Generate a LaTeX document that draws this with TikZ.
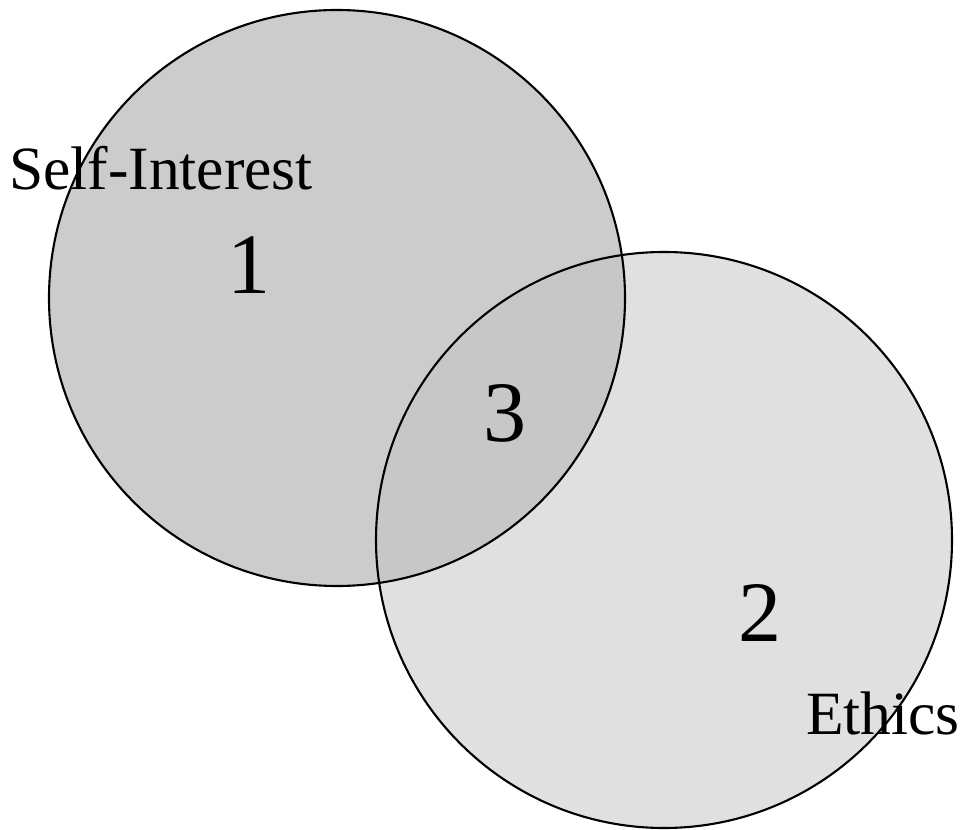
\documentclass[tikz,border=0pt]{standalone}
\usepackage{fontspec}
\setmainfont{Liberation Serif}
\usetikzlibrary{positioning}

\definecolor{selfgray}{gray}{0.80}
\definecolor{ethgray}{gray}{0.88}
\definecolor{bothgray}{gray}{0.78}

\begin{document}
\begin{tikzpicture}[x=0.02cm,y=-0.02cm,
    ring/.style={draw=black,line width=1.2pt},
    label/.style={font=\fontsize{35}{35}\selectfont,inner sep=0pt},
    region/.style={font=\fontsize{49}{49}\selectfont,inner sep=0pt}]
   \useasboundingbox (0,0) rectangle (964,830);
   \coordinate (c_self) at (337,298);
   \coordinate (c_eth) at (664,540);
   % shaded areas
   \fill[ethgray] (c_eth) circle (288);
   \fill[selfgray] (c_self) circle (288);
   \begin{scope}
     \clip (c_self) circle (288);
     \fill[bothgray] (c_eth) circle (288);
   \end{scope}
   \draw[ring] (c_eth) circle (288);
   \draw[ring] (c_self) circle (288);
   % texts
   \node [label] (t_self) at (161,168) {Self-Interest};
   \node [label] (t_eth) at (883,713) {Ethics};
   \node [region] (r_1) at (249,265) {1};
   \node [region] (r_3) at (505,413) {3};
   \node [region] (r_2) at (760,613) {2};
\end{tikzpicture}
\end{document}
